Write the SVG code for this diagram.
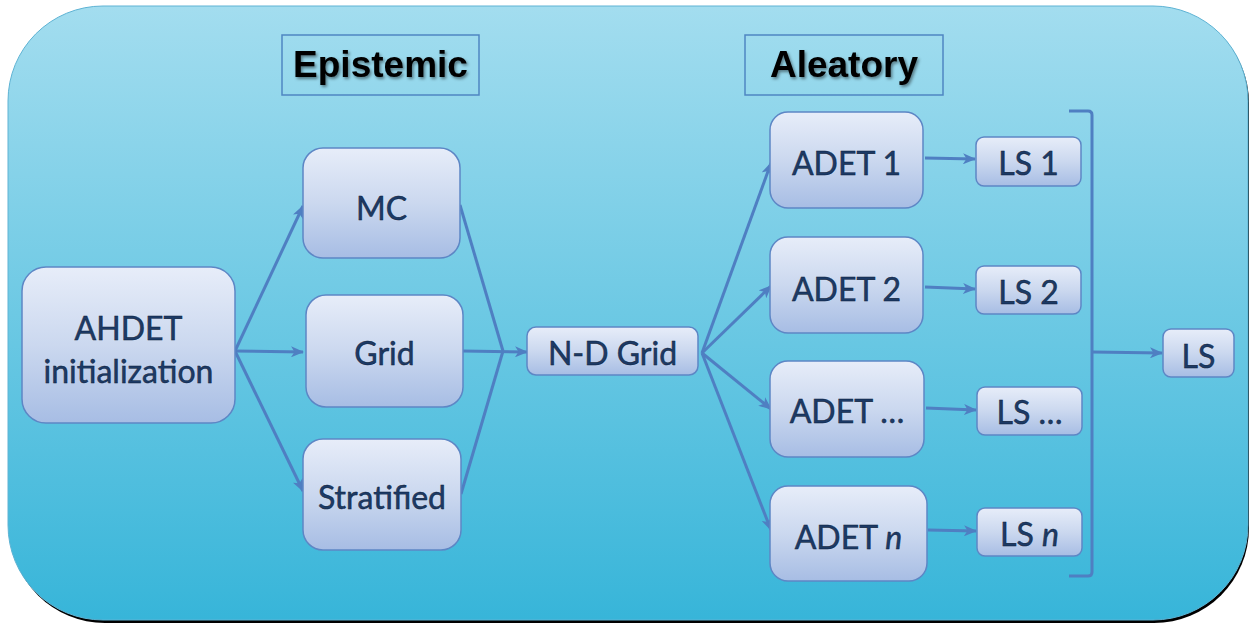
<svg xmlns="http://www.w3.org/2000/svg" width="1250" height="624" viewBox="0 0 1250 624">
<defs>
<linearGradient id="bg" x1="0" y1="0" x2="0" y2="1">
<stop offset="0" stop-color="#a3ddef"/>
<stop offset="1" stop-color="#37b5d9"/>
</linearGradient>
<linearGradient id="nodeg" x1="0" y1="0" x2="0" y2="1">
<stop offset="0" stop-color="#e7edf9"/>
<stop offset="0.5" stop-color="#cbd8ef"/>
<stop offset="1" stop-color="#a7bde4"/>
</linearGradient>
<marker id="arr" markerUnits="userSpaceOnUse" markerWidth="13" markerHeight="11" viewBox="0 0 13 11" refX="12" refY="5.5" orient="auto">
<path d="M0,0 L13,5.5 L0,11 L3.5,5.5 z" fill="#4f7fc2"/>
</marker>
<filter id="ts" x="-10%" y="-20%" width="130%" height="150%">
<feDropShadow dx="1.5" dy="2" stdDeviation="1.5" flood-color="#000" flood-opacity="0.45"/>
</filter>
</defs>
<style>
.node{fill:url(#nodeg);stroke:#5d86c5;stroke-width:1.5}
.lbl{font-family:Lato,"Open Sans","Noto Sans",sans-serif;font-size:32px;fill:#1c3a66;stroke:#0b1a33;stroke-width:0.45;text-anchor:middle;dominant-baseline:central}
.hdr{fill:none;stroke:#4f86c2;stroke-width:1.5}
.htx{font-family:"Liberation Sans",Arial,sans-serif;font-weight:bold;font-size:37px;fill:#000;text-anchor:middle}
.con{fill:none;stroke:#4f7fc2;stroke-width:3}
</style>
<rect x="10" y="8" width="1239" height="615" rx="95" ry="95" fill="#000"/>
<rect x="8" y="6" width="1240" height="614" rx="95" ry="95" fill="url(#bg)" stroke="#5eb3d4" stroke-width="1"/>

<g id="epistemic">
<rect class="hdr" x="282" y="35" width="197" height="60"/>
<text class="htx" x="380.5" y="77" filter="url(#ts)">Epistemic</text>
</g>
<g id="aleatory">
<rect class="hdr" x="745" y="35" width="198" height="60"/>
<text class="htx" x="844" y="77" filter="url(#ts)">Aleatory</text>
</g>

<g id="connectors">
<line class="con" x1="235" y1="351" x2="303" y2="206" marker-end="url(#arr)"/>
<line class="con" x1="235" y1="351" x2="303" y2="352" marker-end="url(#arr)"/>
<line class="con" x1="235" y1="351" x2="303" y2="491" marker-end="url(#arr)"/>
<polyline class="con" points="460,205 503,351"/>
<polyline class="con" points="461,494 503,351"/>
<line class="con" x1="463" y1="351" x2="527" y2="352" marker-end="url(#arr)"/>
<line class="con" x1="702" y1="353" x2="771" y2="163" marker-end="url(#arr)"/>
<line class="con" x1="702" y1="353" x2="771" y2="286" marker-end="url(#arr)"/>
<line class="con" x1="702" y1="353" x2="771" y2="409" marker-end="url(#arr)"/>
<line class="con" x1="702" y1="353" x2="771" y2="530" marker-end="url(#arr)"/>
<line class="con" x1="925" y1="158" x2="975" y2="159" marker-end="url(#arr)"/>
<line class="con" x1="925" y1="287" x2="975" y2="289" marker-end="url(#arr)"/>
<line class="con" x1="926" y1="408" x2="976" y2="410" marker-end="url(#arr)"/>
<line class="con" x1="928" y1="530" x2="976" y2="531" marker-end="url(#arr)"/>
<path class="con" d="M1069,111 H1088 Q1092,111 1092,115 V572 Q1092,576 1088,576 H1069"/>
<line class="con" x1="1092" y1="352" x2="1162" y2="353" marker-end="url(#arr)"/>
</g>

<g id="ahdet">
<rect class="node" x="22" y="267" width="213" height="156" rx="24"/>
<text class="lbl" x="128.5" y="327">AHDET</text>
<text class="lbl" x="128.5" y="370">initialization</text>
</g>
<g id="mc">
<rect class="node" x="303" y="148" width="157" height="110" rx="20"/>
<text class="lbl" x="381.5" y="207">MC</text>
</g>
<g id="grid">
<rect class="node" x="306" y="295" width="157" height="112" rx="20"/>
<text class="lbl" x="384.5" y="352">Grid</text>
</g>
<g id="stratified">
<rect class="node" x="303" y="439" width="158" height="111" rx="20"/>
<text class="lbl" x="382" y="496">Stratified</text>
</g>
<g id="ndgrid">
<rect class="node" x="527" y="327" width="171" height="48" rx="9"/>
<text class="lbl" x="612.5" y="352">N-D Grid</text>
</g>
<g id="adet1">
<rect class="node" x="770" y="112" width="153" height="96" rx="18"/>
<text class="lbl" x="846.5" y="162">ADET 1</text>
</g>
<g id="adet2">
<rect class="node" x="770" y="237" width="153" height="96" rx="18"/>
<text class="lbl" x="846.5" y="288">ADET 2</text>
</g>
<g id="adet3">
<rect class="node" x="770" y="361" width="154" height="96" rx="18"/>
<text class="lbl" x="847" y="410">ADET …</text>
</g>
<g id="adetn">
<rect class="node" x="770" y="486" width="157" height="95" rx="18"/>
<text class="lbl" x="848.5" y="536">ADET <tspan font-style="italic">n</tspan></text>
</g>
<g id="ls1">
<rect class="node" x="976" y="137" width="105" height="49" rx="8"/>
<text class="lbl" x="1028.5" y="162">LS 1</text>
</g>
<g id="ls2">
<rect class="node" x="976" y="266" width="105" height="48" rx="8"/>
<text class="lbl" x="1028.5" y="291">LS 2</text>
</g>
<g id="ls3">
<rect class="node" x="977" y="387" width="105" height="48" rx="8"/>
<text class="lbl" x="1029.5" y="411">LS …</text>
</g>
<g id="lsn">
<rect class="node" x="977" y="508" width="105" height="48" rx="8"/>
<text class="lbl" x="1029.5" y="533">LS <tspan font-style="italic">n</tspan></text>
</g>
<g id="ls">
<rect class="node" x="1163" y="329" width="71" height="48" rx="8"/>
<text class="lbl" x="1198.5" y="355">LS</text>
</g>
</svg>
